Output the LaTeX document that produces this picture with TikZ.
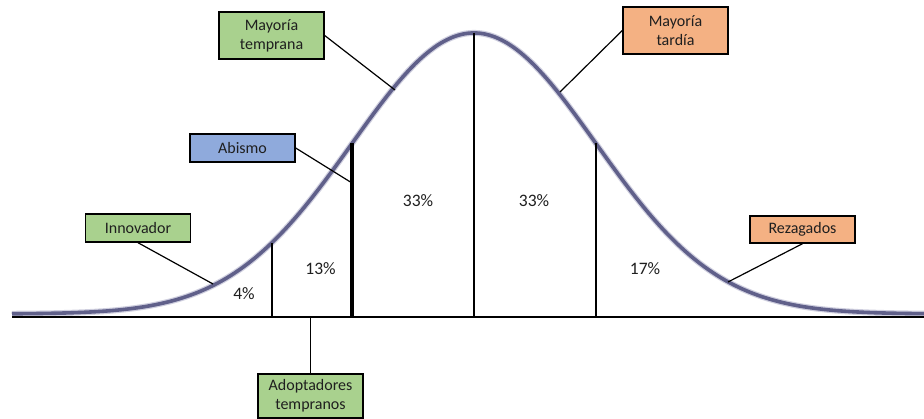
\documentclass[tikz,border=0pt]{standalone}
\usepackage{fontspec}
\setmainfont{Carlito}
\tikzset{
  every node/.style={font=\fontsize{16}{19}\selectfont, text=black!88},
  tag/.style={draw=black, line width=1.4pt, inner sep=0pt, align=center,
    minimum width=105pt, minimum height=28pt},
  tagtall/.style={tag, minimum height=47pt},
  leader/.style={draw=black, line width=1.2pt},
  divider/.style={draw=black, line width=2pt},
  bell/.style={draw={rgb,255:red,96;green,96;blue,138}, line width=3.6pt},
  bellhalo/.style={draw={rgb,255:red,150;green,150;blue,185}, line width=6pt, opacity=0.45},
  pct/.style={inner sep=0pt, font=\fontsize{17.5}{20}\selectfont}
}
\definecolor{tagGreen}{HTML}{A9D18E}
\definecolor{tagOrange}{HTML}{F4B183}
\definecolor{tagBlue}{HTML}{8FAADC}
\begin{document}
\begin{tikzpicture}[x=1pt, y=-1pt]
  \useasboundingbox (0,0) rectangle (924,419);
  \fill[white] (0,0) rectangle (924,419);

  % bell curve of adoption
  \draw[bellhalo] plot[domain=12:924, samples=200, smooth]
    (\x, {314 - 281*exp(-0.5*((\x-474)/122)^2)});
  \draw[bell] plot[domain=12:924, samples=200, smooth]
    (\x, {314 - 281*exp(-0.5*((\x-474)/122)^2)});

  % base axis
  \draw[black, line width=2.4pt] (12,317) -- (924,317);

  % segment dividers
  \coordinate (d1t) at (272,243);  \coordinate (d1b) at (272,317);
  \coordinate (d2t) at (352,143);  \coordinate (d2b) at (352,317);
  \coordinate (d3t) at (474,33);   \coordinate (d3b) at (474,317);
  \coordinate (d4t) at (596,143);  \coordinate (d4b) at (596,317);
  \draw[divider] (d1t) -- (d1b);
  \draw[black, line width=4.6pt] (d2t) -- (d2b);
  \draw[divider] (d3t) -- (d3b);
  \draw[divider] (d4t) -- (d4b);

  % shares
  \node[pct] (p1) at (244,294) {4\%};
  \node[pct] (p2) at (320.5,269) {13\%};
  \node[pct] (p3) at (418,200.5) {33\%};
  \node[pct] (p4) at (534,200.5) {33\%};
  \node[pct] (p5) at (645,268.5) {17\%};

  % category tags
  \node[tagtall, fill=tagGreen]  (mt)  at (271.5,35.5) {Mayoría\\temprana};
  \node[tagtall, fill=tagOrange] (mtd) at (675.5,30.5) {Mayoría\\tardía};
  \node[tag, fill=tagBlue]       (ab)  at (242.5,148)  {Abismo};
  \node[tag, fill=tagGreen]      (inn) at (138,228)    {Innovador};
  \node[tag, fill=tagOrange, minimum height=27pt] (rez) at (802.5,229.5) {Rezagados};
  \node[tag, fill=tagGreen, minimum height=44pt] (adp) at (310.5,396) {Adoptadores\\tempranos};

  % leader points
  \coordinate (cmt)  at (395,90);
  \coordinate (cmtd) at (560,92);
  \coordinate (cab)  at (352,183);
  \coordinate (cinn) at (213,284);
  \coordinate (crez) at (728,282);
  \coordinate (cadp) at (310.5,317);

  \draw[leader] (mt.east) -- (cmt);
  \draw[leader] (mtd.west) -- (cmtd);
  \draw[leader] (ab.east) -- (cab);
  \draw[leader] (inn.south) -- (cinn);
  \draw[leader] (rez.south) -- (crez);
  \draw[leader] (adp.north) -- (cadp);
\end{tikzpicture}
\end{document}
